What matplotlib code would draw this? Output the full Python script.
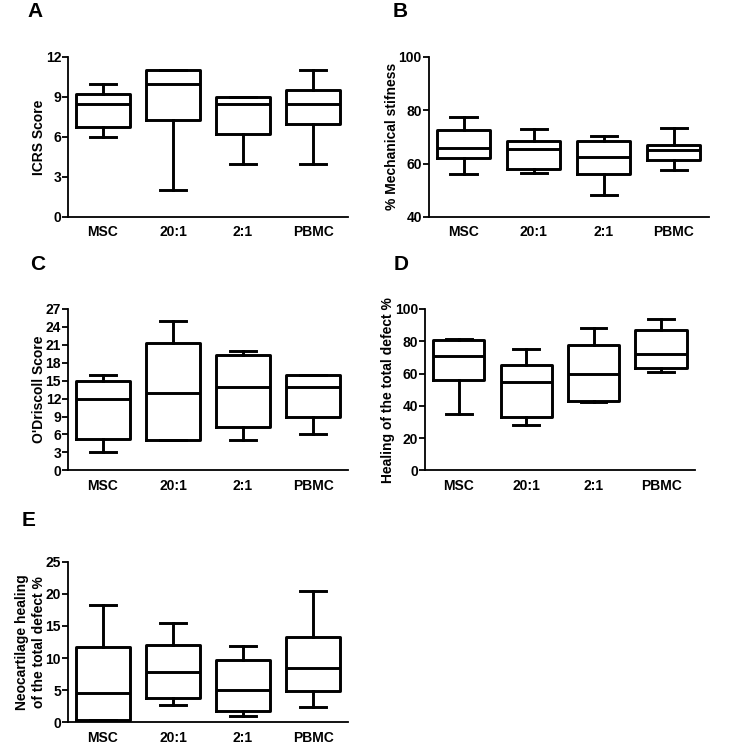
import matplotlib
matplotlib.use("Agg")
import matplotlib.pyplot as plt

plt.rcParams['font.family'] = ['Liberation Sans', 'DejaVu Sans']
plt.rcParams['font.weight'] = 'bold'

groups = ["MSC", "20:1", "2:1", "PBMC"]

# five-number summaries per group: lower whisker, q1, median, q3, upper whisker
icrs = [[6, 6.75, 8.5, 9.25, 10], [2, 7.25, 10, 11, 11],
        [4, 6.25, 8.5, 9, 9], [4, 7, 8.5, 9.5, 11]]
stiffness = [[56, 62, 66, 72.5, 77.5], [56.5, 58, 65.5, 68.5, 73],
             [48, 56, 62.5, 68.5, 70.5], [57.5, 61.5, 65, 67, 73.5]]
odriscoll = [[3, 5.3, 12, 15, 16], [5, 5, 13, 21.3, 25],
             [5, 7.2, 14, 19.3, 20], [6, 9, 14, 16, 16]]
healing = [[35, 56, 71, 81, 81.5], [28, 33, 54.5, 65, 75.5],
           [42.5, 43, 59.5, 77.5, 88], [61, 63.5, 72, 87, 93.5]]
neocart = [[0.3, 0.4, 4.5, 11.7, 18.3], [2.7, 3.8, 7.9, 12, 15.5],
           [1, 1.8, 5, 9.7, 11.8], [2.4, 4.8, 8.5, 13.3, 20.4]]

# letter, data, ylabel, ylim, yticks, axes rect, letter offset (x, y) in axes coords
panels = [
    ("A", icrs, "ICRS Score", (0, 12), [0, 3, 6, 9, 12],
     [0.091, 0.711, 0.375, 0.213], (-0.145, 1.25)),
    ("B", stiffness, "% Mechanical stifness", (40, 100), [40, 60, 80, 100],
     [0.574, 0.711, 0.375, 0.213], (-0.13, 1.25)),
    ("C", odriscoll, "O'Driscoll Score", (0, 27), list(range(0, 28, 3)),
     [0.091, 0.373, 0.375, 0.215], (-0.135, 1.24)),
    ("D", healing, "Healing of the total defect %", (0, 100), [0, 20, 40, 60, 80, 100],
     [0.569, 0.373, 0.361, 0.215], (-0.115, 1.24)),
    ("E", neocart, "Neocartilage healing\nof the total defect %", (0, 25), [0, 5, 10, 15, 20, 25],
     [0.091, 0.037, 0.375, 0.214], (-0.165, 1.22)),
]

fig = plt.figure(figsize=(7.47, 7.5), dpi=100)
lw = 2.1

for letter, data, ylabel, ylim, yticks, rect, (lx, ly) in panels:
    ax = fig.add_axes(rect)
    stats = []
    for g, (lo, q1, med, q3, hi) in zip(groups, data):
        stats.append(dict(label=g, whislo=lo, q1=q1, med=med, q3=q3, whishi=hi, fliers=[]))
    ax.bxp(stats, positions=range(len(groups)), widths=0.76, showfliers=False,
           boxprops=dict(color='black', linewidth=lw),
           whiskerprops=dict(color='black', linewidth=lw),
           capprops=dict(color='black', linewidth=lw),
           medianprops=dict(color='black', linewidth=lw))
    ax.set_xlim(-0.5, 3.5)
    ax.set_ylim(*ylim)
    ax.set_yticks(yticks)
    ax.set_xticks(range(len(groups)))
    ax.set_xticklabels(groups, fontsize=10, fontweight='bold')
    ax.tick_params(axis='y', labelsize=10, width=1.3, length=4, pad=1)
    ax.tick_params(axis='x', length=0, pad=6)
    for lab in ax.get_yticklabels():
        lab.set_fontweight('bold')
    ax.set_ylabel(ylabel, fontsize=10, fontweight='bold', labelpad=0)
    for s in ['top', 'right']:
        ax.spines[s].set_visible(False)
    for s in ['left', 'bottom']:
        ax.spines[s].set_linewidth(1.3)
    ax.text(lx, ly, letter, transform=ax.transAxes, fontsize=15, fontweight='bold',
            ha='left', va='baseline')

fig.savefig("out.png", dpi=100)
